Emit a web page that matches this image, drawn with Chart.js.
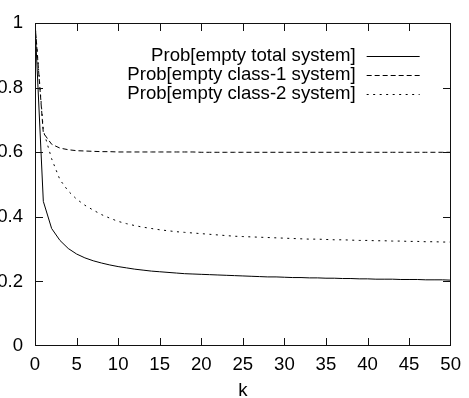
<!DOCTYPE html>
<html><head><meta charset="utf-8">
<script src="https://cdn.jsdelivr.net/npm/chart.js@4.4.0/dist/chart.umd.min.js"></script>
<style>html,body{margin:0;padding:0;background:#fff;overflow:hidden}canvas{display:block}</style>
</head><body>
<canvas id="c" width="469" height="398"></canvas>
<script>
const kValues = [0,1,2,3,4,5,6,7,8,9,10,11,12,13,14,15,16,17,18,19,20,21,22,23,24,25,26,27,28,29,30,31,32,33,34,35,36,37,38,39,40,41,42,43,44,45,46,47,48,49,50];
const probTotal = [1.000,0.448,0.364,0.327,0.302,0.285,0.273,0.264,0.257,0.251,0.246,0.242,0.238,0.235,0.232,0.230,0.228,0.226,0.224,0.223,0.222,0.221,0.220,0.219,0.218,0.217,0.216,0.215,0.214,0.214,0.213,0.212,0.212,0.211,0.211,0.210,0.210,0.209,0.209,0.208,0.208,0.207,0.207,0.207,0.206,0.206,0.206,0.205,0.205,0.205,0.204];
const probClass1 = [1.000,0.660,0.625,0.613,0.608,0.605,0.604,0.603,0.602,0.602,0.601,0.601,0.601,0.601,0.601,0.601,0.601,0.601,0.601,0.601,0.600,0.600,0.600,0.600,0.600,0.600,0.600,0.600,0.600,0.600,0.600,0.600,0.600,0.600,0.600,0.600,0.600,0.600,0.600,0.600,0.600,0.600,0.600,0.600,0.600,0.600,0.600,0.600,0.600,0.600,0.600];
const probClass2 = [1.000,0.668,0.580,0.515,0.480,0.455,0.436,0.421,0.407,0.396,0.386,0.379,0.373,0.368,0.364,0.360,0.357,0.354,0.352,0.350,0.348,0.346,0.344,0.342,0.340,0.339,0.338,0.337,0.336,0.335,0.334,0.333,0.332,0.331,0.331,0.330,0.329,0.329,0.328,0.327,0.327,0.326,0.326,0.325,0.325,0.324,0.324,0.323,0.323,0.322,0.322];
const xTicks = [0,5,10,15,20,25,30,35,40,45,50];
const yTicks = [0,0.2,0.4,0.6,0.8,1];
const yTickLabels = ['0','0.2','0.4','0.6','0.8','1'];
const seriesLabels = ['Prob[empty total system]','Prob[empty class-1 system]','Prob[empty class-2 system]'];
const xTitle = 'k';

const FONT = '"Liberation Sans", Arial, Helvetica, sans-serif';
const FS = 18.6;
const toPts = arr => kValues.map((k,i)=>({x:k,y:arr[i]}));
const yLabel = v => {const i=yTicks.findIndex(t=>Math.abs(t-v)<1e-9); return i>=0?yTickLabels[i]:String(v);};

function drawFrame(chart){
  const ctx = chart.ctx, a = chart.chartArea, xs = chart.scales.x, ys = chart.scales.y;
  ctx.save();
  ctx.fillStyle = '#111';
  const L = Math.round(a.left), R = Math.round(a.right), T = Math.round(a.top), B = Math.round(a.bottom);
  ctx.fillRect(L, T, R-L, 1);
  ctx.fillRect(L, B-1, R-L, 1);
  ctx.fillRect(L, T, 1, B-T);
  ctx.fillRect(R-1, T, 1, B-T);
  xTicks.forEach(v=>{const px=Math.min(Math.round(xs.getPixelForValue(v)),R-1); ctx.fillRect(px, T, 1, 8); ctx.fillRect(px, B-8, 1, 8);});
  yTicks.forEach(v=>{const py=Math.min(Math.round(ys.getPixelForValue(v)),B-1); ctx.fillRect(L, py, 8, 1); ctx.fillRect(R-8, py, 8, 1);});
  ctx.restore();
}

const boxPlugin = {
  id:'plotbox',
  afterDatasetsDraw(chart){ drawFrame(chart); },
  afterDraw(chart){ drawFrame(chart); }
};

const keyPlugin = {
  id:'keyLegend',
  afterDraw(chart){
    const ctx = chart.ctx, a = chart.chartArea;
    ctx.save();
    ctx.font = FS + 'px ' + FONT;
    ctx.fillStyle = '#000';
    ctx.textBaseline = 'middle';
    ctx.textAlign = 'center';
    ctx.fillText(xTitle, (a.left + a.right) / 2, a.bottom + 45);
    ctx.textAlign = 'right';
    chart.data.datasets.forEach((ds,i)=>{
      ctx.fillText(ds.label, a.right - 95, a.top + 33 + i*19);
    });
    chart.data.datasets.forEach((ds,i)=>{
      const yy = Math.round(a.top + 33 + i*19) + 0.5;
      ctx.beginPath();
      ctx.strokeStyle = '#000'; ctx.lineWidth = 1;
      ctx.setLineDash(ds.borderDash || []);
      ctx.moveTo(a.right - 84, yy);
      ctx.lineTo(a.right - 31, yy);
      ctx.stroke();
    });
    ctx.restore();
  }
};

new Chart(document.getElementById('c'), {
  type:'line',
  data:{datasets:[
    {label:seriesLabels[0], data:toPts(probTotal), borderColor:'#000', borderWidth:1, borderDash:[], pointRadius:0, tension:0, fill:false},
    {label:seriesLabels[1], data:toPts(probClass1), borderColor:'#000', borderWidth:1, borderDash:[5,3], pointRadius:0, tension:0, fill:false},
    {label:seriesLabels[2], data:toPts(probClass2), borderColor:'#000', borderWidth:1, borderDash:[2,4.5], pointRadius:0, tension:0, fill:false}
  ]},
  options:{
    responsive:false, animation:false, devicePixelRatio:1,
    layout:{padding:{top:20,right:13}},
    plugins:{legend:{display:false}},
    scales:{
      x:{type:'linear', min:0, max:50,
        afterFit:s=>{s.height = 52;},
        grid:{display:false, drawTicks:false},
        border:{display:false},
        ticks:{stepSize:5, padding:8, color:'#000', font:{family:FONT, size:FS}, maxRotation:0, autoSkip:false, callback:v=>String(v)}
      },
      y:{type:'linear', min:0, max:1,
        afterFit:s=>{s.width = 35;},
        grid:{display:false, drawTicks:false},
        border:{display:false},
        ticks:{stepSize:0.2, padding:12, color:'#000', font:{family:FONT, size:FS}, autoSkip:false, callback:yLabel}
      }
    }
  },
  plugins:[boxPlugin, keyPlugin]
});
</script>
</body></html>
